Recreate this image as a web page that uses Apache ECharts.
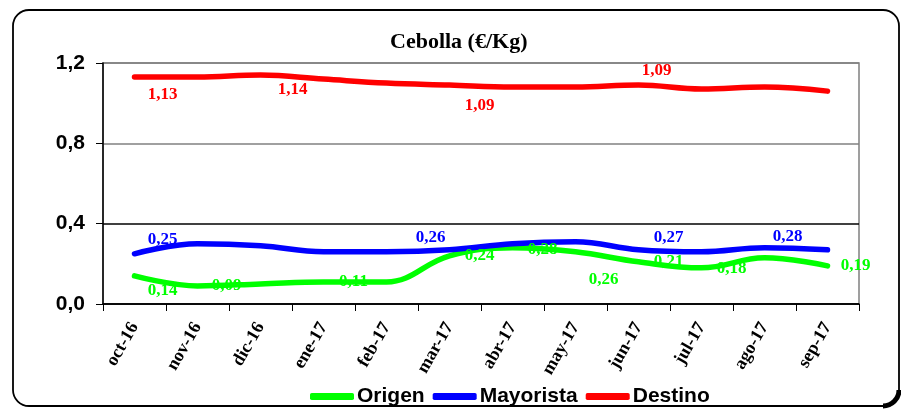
<!DOCTYPE html>
<html>
<head>
<meta charset="utf-8">
<script src="https://cdn.jsdelivr.net/npm/echarts@6/dist/echarts.min.js"></script>
<style>
  html, body { margin: 0; padding: 0; background: #fff; }
  #chart { width: 901px; height: 409px; }
</style>
</head>
<body>
<div id="chart"></div>
<script>
// datos (€/Kg)
const meses = ['oct-16', 'nov-16', 'dic-16', 'ene-17', 'feb-17', 'mar-17', 'abr-17', 'may-17', 'jun-17', 'jul-17', 'ago-17', 'sep-17']
const origen = [0.14, 0.09, 0.10, 0.11, 0.11, 0.24, 0.28, 0.26, 0.21, 0.18, 0.23, 0.19]
const mayorista = [0.25, 0.30, 0.29, 0.26, 0.26, 0.27, 0.30, 0.31, 0.27, 0.26, 0.28, 0.27]
const destino = [1.13, 1.13, 1.14, 1.12, 1.10, 1.09, 1.08, 1.08, 1.09, 1.07, 1.08, 1.06]
const yTicks = [0, 0.4, 0.8, 1.2]

// donde van las etiquetas de cada serie: indice -> desplazamiento [x, y]
const etiquetasOrigen = { 0: [28, 15], 1: [29, 0], 3: [30, 0], 5: [30, 0], 6: [30, 2], 7: [28, 28], 8: [30, 0], 9: [30, 1], 11: [28, 0] }
const etiquetasMayorista = { 0: [28, -14], 4: [44, -14], 8: [30, -12], 10: [23, -11] }
const etiquetasDestino = { 0: [28, 18], 2: [32, 15], 5: [30, 21], 8: [18, -14] }

const fmt = v => v.toFixed(2).replace('.', ',')

function buildData (values, etiquetas, color) {
  return values.map((v, i) => {
    const off = etiquetas[i]
    return {
      value: v,
      label: off ? {
        show: true,
        position: 'inside',
        offset: off,
        formatter: fmt(v),
        color: color,
        fontFamily: 'Liberation Serif',
        fontWeight: 'bold',
        fontSize: 17
      } : { show: false }
    }
  })
}

function serie (name, values, etiquetas, color) {
  return {
    name: name,
    type: 'line',
    smooth: 0.4,
    symbol: 'circle',
    symbolSize: 1,
    itemStyle: { color: color },
    lineStyle: { color: color, width: 5.5, cap: 'round' },
    data: buildData(values, etiquetas, color),
    z: 3
  }
}

const chart = echarts.init(document.getElementById('chart'))
chart.setOption({
  animation: false,
  backgroundColor: '#fff',
  title: {
    text: 'Cebolla (€/Kg)',
    left: 385,
    top: 26,
    textStyle: { fontFamily: 'Liberation Serif', fontWeight: 'bold', fontSize: 22, color: '#000' }
  },
  graphic: [{
    type: 'rect',
    shape: { x: 13, y: 10, width: 886, height: 396, r: 16 },
    style: { fill: 'none', stroke: '#000', lineWidth: 1.8 },
    z: -1
  }, {
    type: 'arc',
    shape: { cx: 883, cy: 390, r: 16, startAngle: 0, endAngle: Math.PI / 2 },
    style: { fill: 'none', stroke: '#000', lineWidth: 5 },
    z: -1
  }],
  grid: {
    left: 103, right: 42, top: 63, bottom: 105,
    show: true, borderColor: '#808080', borderWidth: 1.5
  },
  legend: {
    left: 305,
    top: 381,
    itemWidth: 44,
    itemHeight: 7,
    itemGap: 8,
    icon: 'roundRect',
    textStyle: { fontFamily: 'Liberation Sans', fontWeight: 'bold', fontSize: 21, color: '#000', padding: [0, 0, 0, -2] },
    data: ['Origen', 'Mayorista', 'Destino']
  },
  xAxis: {
    type: 'category',
    data: meses,
    boundaryGap: true,
    axisLine: { lineStyle: { color: '#000', width: 1.5 } },
    axisTick: { show: true, length: 7, lineStyle: { color: '#000' } },
    axisLabel: {
      rotate: 60,
      margin: 20,
      interval: 0,
      fontFamily: 'Liberation Serif',
      fontWeight: 'bold',
      fontSize: 18,
      color: '#000'
    }
  },
  yAxis: {
    type: 'value',
    min: yTicks[0],
    max: yTicks[yTicks.length - 1],
    interval: 0.4,
    axisLine: { show: true, lineStyle: { color: '#000', width: 1.5 } },
    axisTick: { show: true, length: 7, lineStyle: { color: '#000' } },
    axisLabel: {
      margin: 18,
      formatter: v => v.toFixed(1).replace('.', ','),
      fontFamily: 'Liberation Sans',
      fontWeight: 'bold',
      fontSize: 21,
      color: '#000'
    },
    splitLine: { show: true, lineStyle: { color: ['#000', '#000', '#808080', '#808080'], width: 1.5 } }
  },
  series: [
    serie('Origen', origen, etiquetasOrigen, '#00ff00'),
    serie('Mayorista', mayorista, etiquetasMayorista, '#0000ff'),
    serie('Destino', destino, etiquetasDestino, '#ff0000')
  ]
})
</script>
</body>
</html>
